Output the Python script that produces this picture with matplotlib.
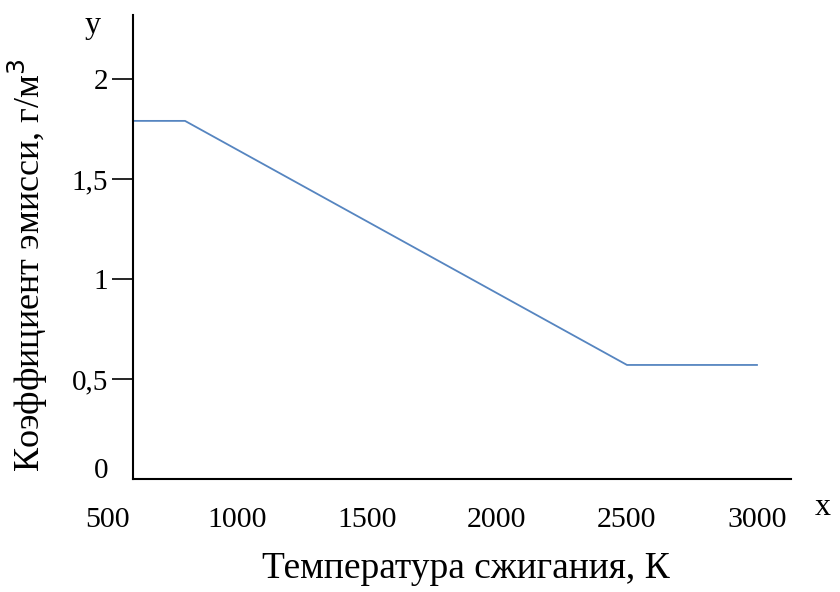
import matplotlib
matplotlib.use('Agg')
import matplotlib.pyplot as plt

# данные графика
temp = [600, 800, 2500, 3000]
emission = [1.79, 1.79, 0.57, 0.57]
x_ticks = [500, 1000, 1500, 2000, 2500, 3000]
y_ticks = [0, 0.5, 1, 1.5, 2]
y_labels = ['0', '0,5', '1', '1,5', '2']

plt.rcParams['font.family'] = ['Liberation Serif', 'DejaVu Serif']

fig = plt.figure(figsize=(8.4, 5.92), dpi=100)
ax = fig.add_axes([0.1274, 0.1909, 0.814, 0.784])

ax.plot(temp, emission, color='#5685c0', lw=1.3)

ax.set_xlim(500, 3130)
ax.set_ylim(0, 2.32)

for s in ['top', 'right']:
    ax.spines[s].set_visible(False)
ax.spines['left'].set_position(('data', 600))
ax.spines['bottom'].set_bounds(600, 3130)
ax.spines['left'].set_linewidth(1.5)
ax.spines['bottom'].set_linewidth(1.5)

ax.set_xticks(x_ticks)
ax.set_xticklabels([str(t) for t in x_ticks], fontsize=21.5)
ax.tick_params(axis='x', length=0, pad=20)

ax.set_yticks(y_ticks[1:])
ax.set_yticklabels(y_labels[1:], fontsize=21)
ax.tick_params(axis='y', length=15, width=1.2, pad=3)
# ноль без засечки
ax.text(0.0015, 0.018, y_labels[0], transform=ax.transAxes, ha='right', va='center', fontsize=21)

fig.text(0.555, 0.04, 'Температура сжигания, К', ha='center', va='center', fontsize=27)
fig.text(0.033, 0.553, 'Коэффициент эмисси, г/м$^3$', ha='center', va='center', rotation=90, fontsize=26)
fig.text(0.11, 0.957, 'у', ha='center', va='center', fontsize=23)
fig.text(0.979, 0.143, 'х', ha='center', va='center', fontsize=23)

fig.savefig('out.png', dpi=100)
